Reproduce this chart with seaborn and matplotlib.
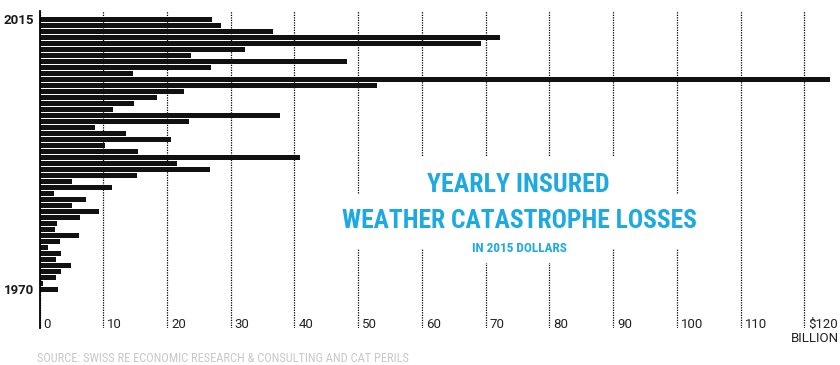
"""
Yearly insured weather catastrophe losses, 1970-2015
"""

import matplotlib
matplotlib.use('Agg')
import matplotlib.pyplot as plt
import seaborn as sns
import pandas as pd
from matplotlib import font_manager
from matplotlib.font_manager import FontProperties
from matplotlib.transforms import ScaledTranslation

# data (billions of 2015 dollars), oldest first
years = list(range(1970, 2016))
losses = [2.9, 0.6, 2.6, 3.4, 5.0, 2.6, 3.4, 1.4, 3.2, 6.2,
          2.5, 2.8, 6.4, 9.4, 5.1, 7.3, 2.3, 11.3, 5.1, 15.3,
          26.8, 21.5, 40.8, 15.5, 10.2, 20.7, 13.6, 8.7, 23.4, 37.7,
          11.5, 14.9, 18.5, 22.6, 53.0, 124.0, 14.6, 26.9, 48.2, 23.7,
          32.3, 69.3, 72.3, 36.6, 28.4, 27.1]
tick_values = [0, 10, 20, 30, 40, 50, 60, 70, 80, 90, 100, 110, 120]
tick_labels = ['0', '10', '20', '30', '40', '50', '60', '70', '80', '90',
               '100', '110', '$120']
shown_years = ['2015', '1970']

title_lines = ['YEARLY INSURED', 'WEATHER CATASTROPHE LOSSES']
subtitle = 'IN 2015 DOLLARS'
source = 'SOURCE: SWISS RE ECONOMIC RESEARCH & CONSULTING AND CAT PERILS'

BLUE = '#1da9e1'
W, H = 840, 365

sns.set_style('white')
plt.rcParams['font.family'] = ['Roboto', 'DejaVu Sans']


def narrow_font(bold):
    """a condensed face from a known family, Roboto if none is installed"""
    prefs = ['Roboto Condensed', 'Noto Sans', 'Open Sans', 'DejaVu Sans',
             'Liberation Sans Narrow', 'Noto Sans Condensed']
    found = []
    for f in font_manager.fontManager.ttflist:
        if f.name not in prefs or f.style != 'normal':
            continue
        narrow = ('ondensed' in f.name or 'Narrow' in f.name
                  or f.stretch in ('condensed', 'semi-condensed',
                                   'extra-condensed', 'ultra-condensed'))
        if not narrow:
            continue
        w = f.weight if isinstance(f.weight, int) else font_manager.weight_dict.get(f.weight, 400)
        if bold and not (600 <= w <= 800):
            continue
        if not bold and not (350 <= w <= 500):
            continue
        found.append((prefs.index(f.name), f.fname))
    if found:
        return FontProperties(fname=sorted(found)[0][1])
    return FontProperties(family='Roboto', weight='bold' if bold else 'normal')


fig = plt.figure(figsize=(W / 100, H / 100), dpi=100)
ax = fig.add_axes([39.5 / W, (H - 328) / H, (W - 39.5) / W, (328 - 11) / H])

df = pd.DataFrame({'year': [str(y) for y in years], 'loss': losses})
order = [str(y) for y in reversed(years)]
sns.barplot(data=df, x='loss', y='year', order=order, orient='h',
            color='#111111', saturation=1, width=0.86, errorbar=None,
            linewidth=0, ax=ax)

ax.set_xlim(0, 125.6)
ax.set_ylim(51.45, -1.38)
ax.set_xlabel('')
ax.set_ylabel('')
for s in ['top', 'right', 'bottom']:
    ax.spines[s].set_visible(False)
ax.spines['left'].set_color('black')
ax.spines['left'].set_linewidth(1.3)

ax.set_axisbelow(True)
ax.grid(axis='x', color='black', linestyle=(0, (1, 1)), linewidth=0.9)
ax.grid(axis='y', visible=False)

# x tick labels sit inside the plot, to the right of each grid line
ax.set_xticks(tick_values, tick_labels)
ax.tick_params(axis='x', length=0, pad=0, labelsize=9.5, labelcolor='#222222')
shift = ScaledTranslation(4 / 100, 0, fig.dpi_scale_trans)
for lab in ax.get_xticklabels():
    lab.set_ha('left')
    lab.set_va('baseline')
    lab.set_transform(lab.get_transform() + shift)

ax.set_yticks([order.index(y) for y in shown_years], shown_years)
ax.tick_params(axis='y', length=0, pad=4, labelsize=9.5, labelcolor='#1a1a1a')
for lab in ax.get_yticklabels():
    lab.set_fontweight('bold')

fig.text(839 / W, 1 - 341.7 / H, 'BILLION', ha='right', va='baseline',
         fontsize=9.5, color='#222222')

# title block with white boxes that break the grid lines
bold_narrow = narrow_font(True)
plain_narrow = narrow_font(False)
box = dict(facecolor='white', edgecolor='none', pad=6)
t1 = fig.text(518 / W, 1 - 191.7 / H, title_lines[0], ha='center', va='baseline',
              color=BLUE, fontproperties=bold_narrow, bbox=box)
t2 = fig.text(519 / W, 1 - 228.3 / H, title_lines[1], ha='center', va='baseline',
              color=BLUE, fontproperties=bold_narrow, bbox=box)
t3 = fig.text(519 / W, 1 - 251.7 / H, subtitle, ha='center', va='baseline',
              color=BLUE, fontproperties=bold_narrow, bbox=box)
t4 = fig.text(37 / W, 1 - 361.7 / H, source, ha='left', va='baseline',
              color='#c8c8c8', fontproperties=plain_narrow)

# size each text so its width matches the reference
targets = [(t1, 182), (t2, 355), (t3, 95), (t4, 371)]
for t, _ in targets:
    t.set_fontsize(20)
fig.canvas.draw()
r = fig.canvas.get_renderer()
for t, width in targets:
    cur = t.get_window_extent(r).width
    t.set_fontsize(20 * width / cur)

fig.savefig('out.png', dpi=100)
